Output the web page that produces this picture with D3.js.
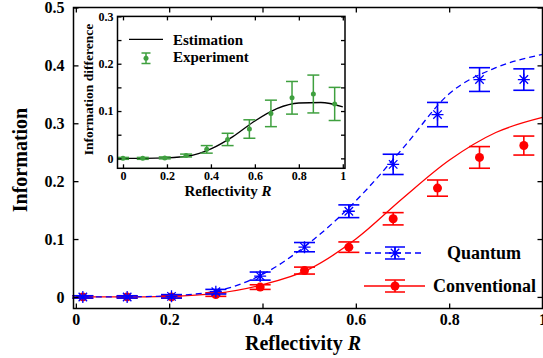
<!DOCTYPE html>
<html>
<head>
<meta charset="utf-8">
<script src="https://cdn.jsdelivr.net/npm/d3@7"></script>
<style>
  body { margin: 0; background: #fff; }
  text { font-family: "Liberation Serif", "Times New Roman", serif; font-weight: bold; }
</style>
</head>
<body>
<div id="chart"></div>
<script>
const width = 543;
const height = 358;

// ---- main data ----
const reflectivity = [0.015, 0.11, 0.205, 0.30, 0.395, 0.49, 0.585, 0.68, 0.775, 0.865, 0.96];
const quantumInfo = [0, 0, 0.001, 0.009, 0.036, 0.086, 0.148, 0.229, 0.315, 0.3755, 0.3755];
const quantumErr = [0.002, 0.002, 0.003, 0.004, 0.007, 0.008, 0.011, 0.0175, 0.021, 0.0205, 0.0185];
const conventionalInfo = [0, 0, 0, 0.004, 0.017, 0.0455, 0.086, 0.135, 0.188, 0.241, 0.2615];
const conventionalErr = [0.002, 0.002, 0.002, 0.003, 0.004, 0.006, 0.009, 0.0106, 0.014, 0.0187, 0.0164];

// theory curves
const curveR = [0, 0.1, 0.2, 0.3, 0.4, 0.5, 0.6, 0.7, 0.8, 0.9, 1.0];
const quantumCurve = [0, 0, 0.002, 0.010, 0.039, 0.093, 0.166, 0.256, 0.351, 0.396, 0.419];
const conventionalCurve = [0, 0, 0.001, 0.006, 0.021, 0.048, 0.100, 0.170, 0.236, 0.284, 0.310];

const xTicks = [0, 0.2, 0.4, 0.6, 0.8, 1];
const yTicks = [0, 0.1, 0.2, 0.3, 0.4, 0.5];

// ---- inset data ----
const insetR = [0.0, 0.09, 0.19, 0.287, 0.381, 0.476, 0.575, 0.673, 0.769, 0.866, 0.963];
const diffInfo = [0, 0, 0.001, 0.006, 0.019, 0.040, 0.062, 0.095, 0.128, 0.136, 0.115];
const diffErr = [0.002, 0.002, 0.002, 0.003, 0.008, 0.013, 0.0195, 0.028, 0.0345, 0.04, 0.035];
const diffCurve = [0, 0, 0.001, 0.005, 0.020, 0.046, 0.079, 0.105, 0.117, 0.118, 0.109];

const insetXTicks = [0, 0.2, 0.4, 0.6, 0.8, 1];
const insetYTicks = [0, 0.1, 0.2, 0.3];
const insetYMinor = [0.05, 0.15, 0.25];

const BLUE = "#0000ff";
const RED = "#ff0000";
const GREEN = "#3fa03f";

const fmt = d => (d === 0 || d === 1) ? String(d) : d3.format(".1f")(d);

const svg = d3.select("#chart")
    .append("svg")
    .attr("width", width)
    .attr("height", height);

////////////////////////////////////////////////////////
// MAIN PLOT
////////////////////////////////////////////////////////

const x = d3.scaleLinear().domain([-0.005, 1]).range([73.5, 542.5]);
const y = d3.scaleLinear().domain([-0.02, 0.5]).range([308.5, 7.5]);

function styleAxis(g, size) {
    g.select(".domain").remove();
    g.selectAll("line").attr("stroke", "#000").attr("stroke-width", 1.3);
    g.selectAll("text")
        .attr("fill", "#000")
        .style("font-size", size + "px");
}

// curves
const line = d3.line()
    .x((d, i) => x(curveR[i]))
    .y(d => y(d))
    .curve(d3.curveMonotoneX);

svg.append("path")
    .datum(conventionalCurve)
    .attr("d", line)
    .attr("fill", "none")
    .attr("stroke", RED)
    .attr("stroke-width", 1.3);

svg.append("path")
    .datum(quantumCurve)
    .attr("d", line)
    .attr("fill", "none")
    .attr("stroke", BLUE)
    .attr("stroke-width", 1.3)
    .attr("stroke-dasharray", "6,4");

function asterisk(r) {
    const d = r * Math.SQRT1_2;
    return `M${-r},0L${r},0M0,${-r}L0,${r}M${-d},${-d}L${d},${d}M${-d},${d}L${d},${-d}`;
}

function errorBars(g, xs, ys, es, xScale, yScale, color, cap, sw) {
    const bars = g.selectAll(null)
        .data(ys)
        .enter()
        .append("g")
        .attr("stroke", color)
        .attr("stroke-width", sw);
    bars.append("line")
        .attr("x1", (d, i) => xScale(xs[i])).attr("x2", (d, i) => xScale(xs[i]))
        .attr("y1", (d, i) => yScale(d - es[i])).attr("y2", (d, i) => yScale(d + es[i]));
    bars.append("line")
        .attr("x1", (d, i) => xScale(xs[i]) - cap).attr("x2", (d, i) => xScale(xs[i]) + cap)
        .attr("y1", (d, i) => yScale(d - es[i])).attr("y2", (d, i) => yScale(d - es[i]));
    bars.append("line")
        .attr("x1", (d, i) => xScale(xs[i]) - cap).attr("x2", (d, i) => xScale(xs[i]) + cap)
        .attr("y1", (d, i) => yScale(d + es[i])).attr("y2", (d, i) => yScale(d + es[i]));
}

// conventional points
errorBars(svg.append("g"), reflectivity, conventionalInfo, conventionalErr, x, y, RED, 10.5, 1.6);
svg.append("g").selectAll("circle")
    .data(conventionalInfo)
    .enter()
    .append("circle")
    .attr("cx", (d, i) => x(reflectivity[i]))
    .attr("cy", d => y(d))
    .attr("r", 4.5)
    .attr("fill", RED);

// quantum points
errorBars(svg.append("g"), reflectivity, quantumInfo, quantumErr, x, y, BLUE, 10.5, 1.6);
svg.append("g").selectAll("path")
    .data(quantumInfo)
    .enter()
    .append("path")
    .attr("transform", (d, i) => `translate(${x(reflectivity[i])},${y(d)})`)
    .attr("d", asterisk(6))
    .attr("stroke", BLUE)
    .attr("stroke-width", 1.3)
    .attr("fill", "none");

// AXES
svg.append("g")
    .attr("transform", `translate(0,${y.range()[0]})`)
    .call(d3.axisBottom(x).tickValues(xTicks).tickFormat(fmt).tickSizeInner(-5).tickSizeOuter(0).tickPadding(5))
    .call(g => styleAxis(g, 16));

svg.append("g")
    .attr("transform", `translate(${x.range()[0]},0)`)
    .call(d3.axisLeft(y).tickValues(yTicks).tickFormat(fmt).tickSizeInner(-5).tickSizeOuter(0).tickPadding(9))
    .call(g => styleAxis(g, 16));

svg.append("g")
    .attr("transform", `translate(0,${y.range()[1]})`)
    .call(d3.axisTop(x).tickValues(xTicks).tickFormat("").tickSizeInner(-5).tickSizeOuter(0))
    .call(g => styleAxis(g, 16));

svg.append("g")
    .attr("transform", `translate(${x.range()[1]},0)`)
    .call(d3.axisRight(y).tickValues(yTicks).tickFormat("").tickSizeInner(-5).tickSizeOuter(0))
    .call(g => styleAxis(g, 16));

// FRAME
svg.append("rect")
    .attr("x", x.range()[0])
    .attr("y", y.range()[1])
    .attr("width", x.range()[1] - x.range()[0])
    .attr("height", y.range()[0] - y.range()[1])
    .attr("fill", "none")
    .attr("stroke", "#000")
    .attr("stroke-width", 1.5);

// AXIS LABELS
svg.append("text")
    .attr("x", 303)
    .attr("y", 350)
    .attr("text-anchor", "middle")
    .style("font-size", "20px")
    .text("Reflectivity ")
    .append("tspan")
    .style("font-style", "italic")
    .text("R");

svg.append("text")
    .attr("transform", "rotate(-90)")
    .attr("x", -160)
    .attr("y", 27)
    .attr("text-anchor", "middle")
    .style("font-size", "20px")
    .text("Information");

// LEGEND
const legend = svg.append("g");
const legendRows = [
    { label: "Quantum", color: BLUE, dash: "6,4", y: 253, x0: 365, tx: 447 },
    { label: "Conventional", color: RED, dash: null, y: 286, x0: 364, tx: 433 }
];
legendRows.forEach((r, k) => {
    legend.append("line")
        .attr("x1", r.x0).attr("x2", 425)
        .attr("y1", r.y).attr("y2", r.y)
        .attr("stroke", r.color)
        .attr("stroke-width", 1.3)
        .attr("stroke-dasharray", r.dash);
    const lx = 395;
    legend.append("path")
        .attr("d", `M${lx},${r.y - 6}V${r.y + 6}M${lx - 10},${r.y - 6}H${lx + 10}M${lx - 10},${r.y + 6}H${lx + 10}`)
        .attr("stroke", r.color)
        .attr("stroke-width", 1.6)
        .attr("fill", "none");
    if (k === 0) {
        legend.append("path")
            .attr("transform", `translate(${lx},${r.y})`)
            .attr("d", asterisk(6))
            .attr("stroke", r.color)
            .attr("stroke-width", 1.3);
    } else {
        legend.append("circle")
            .attr("cx", lx).attr("cy", r.y).attr("r", 4.5)
            .attr("fill", r.color);
    }
    legend.append("text")
        .attr("x", r.tx)
        .attr("y", r.y + 6)
        .style("font-size", "18px")
        .text(r.label);
});

////////////////////////////////////////////////////////
// INSET
////////////////////////////////////////////////////////

const ix = d3.scaleLinear().domain([-0.025, 1.01]).range([117.5, 345]);
const iy = d3.scaleLinear().domain([-0.021, 0.3]).range([168.3, 16.4]);

const inset = svg.append("g");

inset.append("rect")
    .attr("x", ix.range()[0])
    .attr("y", iy.range()[1])
    .attr("width", ix.range()[1] - ix.range()[0])
    .attr("height", iy.range()[0] - iy.range()[1])
    .attr("fill", "#fff");

const iline = d3.line()
    .x((d, i) => ix(curveR[i]))
    .y(d => iy(d))
    .curve(d3.curveMonotoneX);

inset.append("path")
    .datum(diffCurve)
    .attr("d", iline)
    .attr("fill", "none")
    .attr("stroke", "#000")
    .attr("stroke-width", 1.3);

errorBars(inset.append("g"), insetR, diffInfo, diffErr, ix, iy, GREEN, 6, 1.5);
inset.append("g").selectAll("circle")
    .data(diffInfo)
    .enter()
    .append("circle")
    .attr("cx", (d, i) => ix(insetR[i]))
    .attr("cy", d => iy(d))
    .attr("r", 2.5)
    .attr("fill", GREEN);

inset.append("g")
    .attr("transform", `translate(0,${iy.range()[0]})`)
    .call(d3.axisBottom(ix).tickValues(insetXTicks).tickFormat(fmt).tickSizeInner(-4).tickSizeOuter(0).tickPadding(3))
    .call(g => styleAxis(g, 12));

inset.append("g")
    .attr("transform", `translate(0,${iy.range()[1]})`)
    .call(d3.axisTop(ix).tickValues(insetXTicks).tickFormat("").tickSizeInner(-4).tickSizeOuter(0))
    .call(g => styleAxis(g, 12));

inset.append("g")
    .attr("transform", `translate(${ix.range()[0]},0)`)
    .call(d3.axisLeft(iy).tickValues(insetYTicks.concat(insetYMinor))
        .tickFormat(d => insetYTicks.includes(d) ? fmt(d) : "")
        .tickSizeInner(-4).tickSizeOuter(0).tickPadding(4))
    .call(g => styleAxis(g, 12));

inset.append("g")
    .attr("transform", `translate(${ix.range()[1]},0)`)
    .call(d3.axisRight(iy).tickValues(insetYTicks.concat(insetYMinor)).tickFormat("").tickSizeInner(-4).tickSizeOuter(0))
    .call(g => styleAxis(g, 12));

inset.append("rect")
    .attr("x", ix.range()[0])
    .attr("y", iy.range()[1])
    .attr("width", ix.range()[1] - ix.range()[0])
    .attr("height", iy.range()[0] - iy.range()[1])
    .attr("fill", "none")
    .attr("stroke", "#000")
    .attr("stroke-width", 1.5);

inset.append("text")
    .attr("x", 228)
    .attr("y", 196)
    .attr("text-anchor", "middle")
    .style("font-size", "15px")
    .text("Reflectivity ")
    .append("tspan")
    .style("font-style", "italic")
    .text("R");

inset.append("text")
    .attr("transform", "rotate(-90)")
    .attr("x", -89.5)
    .attr("y", 93)
    .attr("text-anchor", "middle")
    .style("font-size", "13.5px")
    .text("Information difference");

// inset legend
inset.append("line")
    .attr("x1", 129).attr("x2", 163)
    .attr("y1", 39.3).attr("y2", 39.3)
    .attr("stroke", "#000")
    .attr("stroke-width", 1.3);
inset.append("text")
    .attr("x", 173).attr("y", 44.5)
    .style("font-size", "15px")
    .text("Estimation");

inset.append("path")
    .attr("d", "M146,53V63.5M141.5,53H150.5M141.5,63.5H150.5")
    .attr("stroke", GREEN)
    .attr("stroke-width", 1.5)
    .attr("fill", "none");
inset.append("circle")
    .attr("cx", 146).attr("cy", 58.3).attr("r", 2.5)
    .attr("fill", GREEN);
inset.append("text")
    .attr("x", 173).attr("y", 62)
    .style("font-size", "15px")
    .text("Experiment");
</script>
</body>
</html>
